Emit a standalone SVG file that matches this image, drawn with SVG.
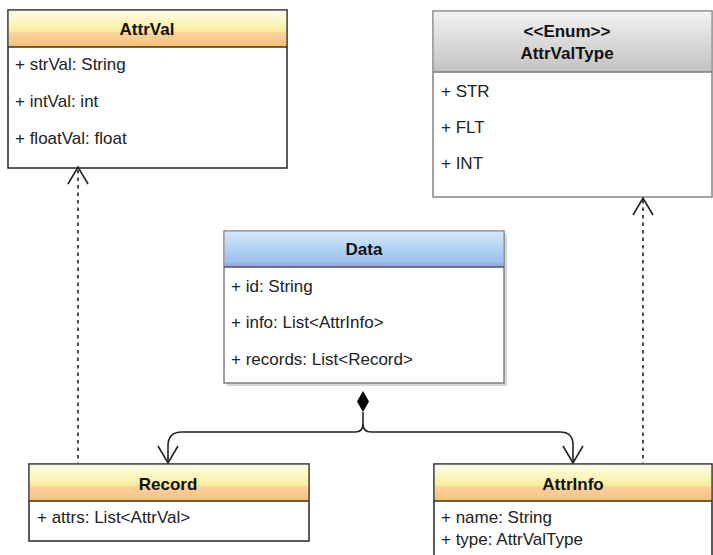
<svg xmlns="http://www.w3.org/2000/svg" width="713" height="555" viewBox="0 0 713 555">
<defs>
<linearGradient id="gYellow" x1="0" y1="0" x2="0" y2="1">
<stop offset="0" stop-color="#fdfbe8"/>
<stop offset="0.3" stop-color="#fbf6c0"/>
<stop offset="0.55" stop-color="#f9efa0"/>
<stop offset="0.62" stop-color="#fbd29a"/>
<stop offset="0.9" stop-color="#f9c586"/>
<stop offset="1" stop-color="#f6c14a"/>
</linearGradient>
<linearGradient id="gBlue" x1="0" y1="0" x2="0" y2="1">
<stop offset="0" stop-color="#d4e8fb"/>
<stop offset="0.5" stop-color="#b0d2f4"/>
<stop offset="0.85" stop-color="#9ec0ea"/>
<stop offset="1" stop-color="#9a9ad8"/>
</linearGradient>
<linearGradient id="gGray" x1="0" y1="0" x2="0" y2="1">
<stop offset="0" stop-color="#f2f2f2"/>
<stop offset="1" stop-color="#c2c2c2"/>
</linearGradient>
<style>
.box{fill:#fff;stroke:#333;stroke-width:1.6}
.sep{stroke:#333;stroke-width:1.6}
.t{font-family:"Liberation Sans",Arial,sans-serif;font-size:17px;fill:#222}
.h{font-family:"Liberation Sans",Arial,sans-serif;font-size:17px;font-weight:bold;fill:#111;text-anchor:middle}
.dash{fill:none;stroke:#222;stroke-width:1.6;stroke-dasharray:3.5 4}
.ln{fill:none;stroke:#222;stroke-width:1.6}
</style>
</defs>

<g id="AttrVal">
<rect class="box" x="8" y="10" width="279" height="158"/>
<rect x="8.8" y="10.8" width="277.4" height="36.2" fill="url(#gYellow)"/>
<line class="sep" x1="8" y1="47" x2="287" y2="47"/>
<text class="h" x="147" y="35">AttrVal</text>
<text class="t" x="15" y="70">+ strVal: String</text>
<text class="t" x="15" y="107">+ intVal: int</text>
<text class="t" x="15" y="144">+ floatVal: float</text>
</g>

<g id="AttrValType">
<rect x="433" y="11" width="279" height="186" fill="#fff" stroke="#8a8a8a" stroke-width="1.6"/>
<rect x="433.8" y="11.8" width="277.4" height="60" fill="url(#gGray)"/>
<line x1="433" y1="72" x2="712" y2="72" stroke="#777" stroke-width="1.4"/>
<text class="h" x="567" y="37">&lt;&lt;Enum&gt;&gt;</text>
<text class="h" x="567" y="59">AttrValType</text>
<text class="t" x="441" y="97">+ STR</text>
<text class="t" x="441" y="133">+ FLT</text>
<text class="t" x="441" y="169">+ INT</text>
</g>

<g id="Data">
<rect x="227" y="234" width="280" height="152" fill="#bbb" opacity="0.6"/>
<rect x="224" y="231" width="280" height="152" fill="#fff" stroke="#777" stroke-width="1.4"/>
<rect x="224.7" y="231.7" width="278.6" height="35.3" fill="url(#gBlue)"/>
<line x1="224" y1="267" x2="504" y2="267" stroke="#555" stroke-width="1.4"/>
<text class="h" x="364" y="255">Data</text>
<text class="t" x="231" y="292">+ id: String</text>
<text class="t" x="231" y="328">+ info: List&lt;AttrInfo&gt;</text>
<text class="t" x="231" y="365">+ records: List&lt;Record&gt;</text>
</g>

<g id="Record">
<rect class="box" x="29" y="464" width="280" height="77"/>
<rect x="29.8" y="464.8" width="278.4" height="36.2" fill="url(#gYellow)"/>
<line class="sep" x1="29" y1="501" x2="309" y2="501"/>
<text class="h" x="168" y="490">Record</text>
<text class="t" x="37" y="523">+ attrs: List&lt;AttrVal&gt;</text>
</g>

<g id="AttrInfo">
<rect class="box" x="434" y="464" width="278" height="100"/>
<rect x="434.8" y="464.8" width="276.4" height="36.2" fill="url(#gYellow)"/>
<line class="sep" x1="434" y1="501" x2="712" y2="501"/>
<text class="h" x="573" y="490">AttrInfo</text>
<text class="t" x="441" y="523">+ name: String</text>
<text class="t" x="441" y="545">+ type: AttrValType</text>
</g>

<g id="connectors">
<line class="dash" x1="78" y1="170" x2="78" y2="463"/>
<polyline class="ln" points="68,184 78,167 88,184"/>
<line class="dash" x1="643" y1="200" x2="643" y2="463"/>
<polyline class="ln" points="633,215 643,198 653,215"/>
<polygon points="363,391 369,401.5 363,412 357,401.5" fill="#000"/>
<path class="ln" d="M363,412 L363,424 Q363,432 355,432 L182,432 Q168,432 168,446 L168,462"/>
<path class="ln" d="M363,424 Q363,432 371,432 L560,432 Q573,432 573,445 L573,462"/>
<polyline class="ln" points="158,446 168,463 178,446"/>
<polyline class="ln" points="563,446 573,463 583,446"/>
</g>
</svg>
